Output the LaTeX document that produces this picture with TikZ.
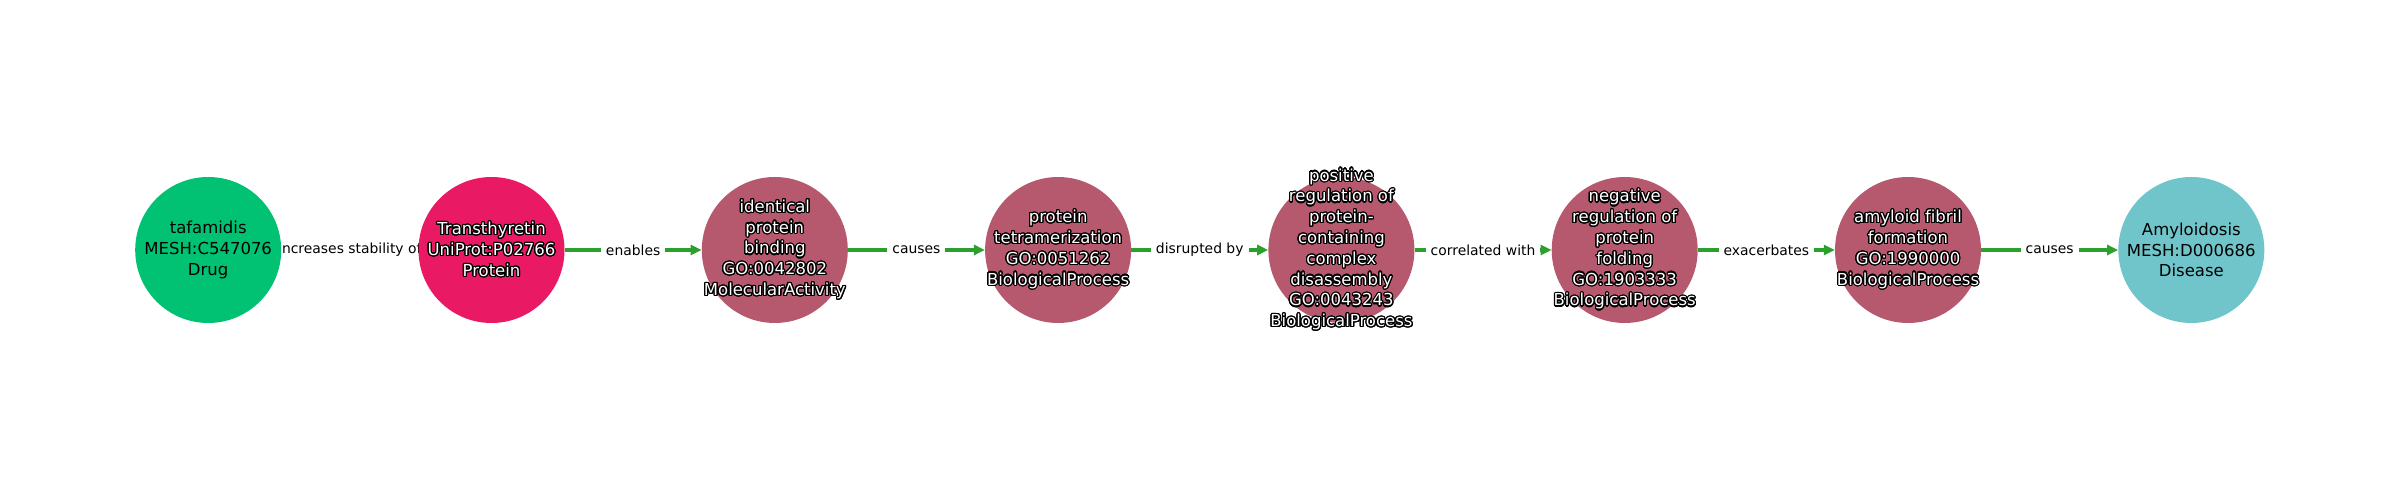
\documentclass[tikz,border=0pt]{standalone}
\usepackage{fontspec}
\setmainfont[Ligatures=NoCommon]{DejaVu Sans}
\usepackage[copies]{contour}
\contournumber{24}
\contourlength{1.2pt}
\usetikzlibrary{arrows.meta}
\pgfdeclarelayer{bg}
\pgfsetlayers{bg,main}
\definecolor{drugc}{HTML}{00C272}
\definecolor{protc}{HTML}{E91964}
\definecolor{goc}{HTML}{B7596E}
\definecolor{disc}{HTML}{70C5CB}
\definecolor{edgec}{HTML}{2CA02C}
\newcommand\outl[1]{\contour{black}{#1}}
\begin{document}
\begin{tikzpicture}[x=1pt,y=1pt,
  nodecirc/.style={circle, minimum size=146pt, inner sep=0pt, fill=#1, draw=none},
  nodetext/.style={align=center, font=\fontsize{16.5}{20.8}\selectfont, text=black, inner sep=0pt},
  whitetext/.style={nodetext, text=white},
  edge/.style={draw=edgec, line width=4pt, -{Triangle[length=11pt,width=10pt]}},
  elabel/.style={fill=white, inner xsep=5pt, inner ysep=2pt, font=\fontsize{13.9}{16}\selectfont, text=black}]
\useasboundingbox (0,0) rectangle (2400,500);
\node[nodecirc=drugc] (n1) at (208.2,250) {};
\node[nodecirc=protc] (n2) at (491.5,250) {};
\node[nodecirc=goc] (n3) at (774.8,250) {};
\node[nodecirc=goc] (n4) at (1058.1,250) {};
\node[nodecirc=goc] (n5) at (1341.4,250) {};
\node[nodecirc=goc] (n6) at (1624.7,250) {};
\node[nodecirc=goc] (n7) at (1908,250) {};
\node[nodecirc=disc] (n8) at (2191.3,250) {};
\node[nodetext] (t1) at (n1.center) {tafamidis\\MESH:C547076\\Drug};
\node[whitetext] (t2) at (n2.center) {\outl{Transthyretin}\\\outl{UniProt:P02766}\\\outl{Protein}};
\node[whitetext] (t3) at (n3.center) {\outl{identical}\\\outl{protein}\\\outl{binding}\\\outl{GO:0042802}\\\outl{MolecularActivity}};
\node[whitetext] (t4) at (n4.center) {\outl{protein}\\\outl{tetramerization}\\\outl{GO:0051262}\\\outl{BiologicalProcess}};
\node[whitetext] (t5) at (n5.center) {\outl{positive}\\\outl{regulation of}\\\outl{protein-}\\\outl{containing}\\\outl{complex}\\\outl{disassembly}\\\outl{GO:0043243}\\\outl{BiologicalProcess}};
\node[whitetext] (t6) at (n6.center) {\outl{negative}\\\outl{regulation of}\\\outl{protein}\\\outl{folding}\\\outl{GO:1903333}\\\outl{BiologicalProcess}};
\node[whitetext] (t7) at (n7.center) {\outl{amyloid fibril}\\\outl{formation}\\\outl{GO:1990000}\\\outl{BiologicalProcess}};
\node[nodetext] (t8) at (n8.center) {Amyloidosis\\MESH:D000686\\Disease};
\begin{pgfonlayer}{bg}
\draw[edge] (n1) -- node[elabel] (e1) {increases stability of} (n2);
\draw[edge] (n2) -- node[elabel] (e2) {enables} (n3);
\draw[edge] (n3) -- node[elabel] (e3) {causes} (n4);
\draw[edge] (n4) -- node[elabel] (e4) {disrupted by} (n5);
\draw[edge] (n5) -- node[elabel] (e5) {correlated with} (n6);
\draw[edge] (n6) -- node[elabel] (e6) {exacerbates} (n7);
\draw[edge] (n7) -- node[elabel] (e7) {causes} (n8);
\end{pgfonlayer}
\end{tikzpicture}
\end{document}
